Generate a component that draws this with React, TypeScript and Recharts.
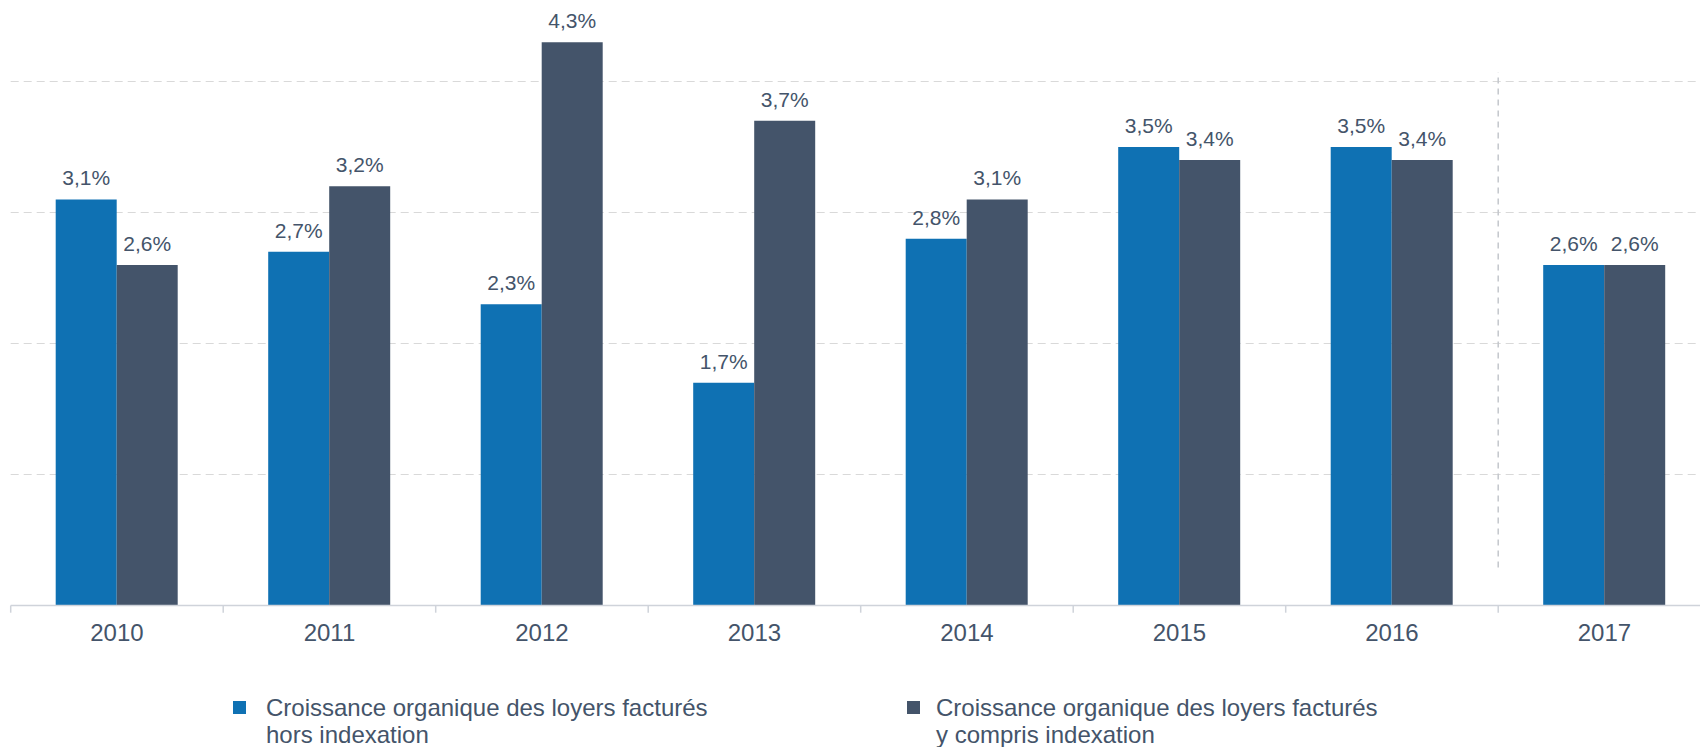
import { Bar, BarChart, CartesianGrid, LabelList, ReferenceLine, XAxis, YAxis } from "recharts";

const years = ["2010", "2011", "2012", "2013", "2014", "2015", "2016", "2017"];
const horsIndexation = [3.1, 2.7, 2.3, 1.7, 2.8, 3.5, 3.5, 2.6];
const yComprisIndexation = [2.6, 3.2, 4.3, 3.7, 3.1, 3.4, 3.4, 2.6];
const gridTicks = [1, 2, 3, 4];

const seriesNames = [
  ["Croissance organique des loyers facturés", "hors indexation"],
  ["Croissance organique des loyers facturés", "y compris indexation"],
];

// the dashed separator before the 2017 column, in % units
const SEP_FROM = 0.29;
const SEP_TO = 4.07;
const TICK_DEPTH = -0.055;

const BLUE = "#0F71B3";
const SLATE = "#44546A";
const TEXT = "#44546A";
const FONT = "'Liberation Sans', Arial, sans-serif";

const data = years.map((year, i) => ({
  year,
  hors: horsIndexation[i],
  ycompris: yComprisIndexation[i],
}));

const fmt = (v: any) => `${Number(v).toFixed(1).replace(".", ",")}%`;

const legendPos = [
  { square: 233, text: 266, color: BLUE },
  { square: 907, text: 936, color: SLATE },
];

export default function App() {
  return (
    <div
      style={{
        position: "absolute",
        left: 0,
        top: 0,
        width: 1700,
        height: 747,
        overflow: "hidden",
        background: "#fff",
        fontFamily: FONT,
      }}
    >
      <BarChart
        width={1721}
        height={747}
        data={data}
        margin={{ top: 16, right: 10.3, bottom: 96.5, left: 10.7 }}
        barGap={0}
        barSize={61}
      >
        <CartesianGrid
          vertical={false}
          horizontalValues={gridTicks}
          stroke="#D9D9D9"
          strokeDasharray="8 5"
        />
        <YAxis hide domain={[0, 4.5]} ticks={gridTicks} />
        <XAxis
          dataKey="year"
          height={45}
          tickSize={0}
          tickMargin={18}
          tickLine={false}
          axisLine={{ stroke: "#CFD3DA", strokeWidth: 1.5 }}
          tick={{ fill: TEXT, fontSize: 24, fontFamily: FONT }}
          interval={0}
        />
        {years.map((y) => (
          <ReferenceLine
            key={`t-${y}`}
            segment={[
              { x: y, y: 0 },
              { x: y, y: TICK_DEPTH },
            ]}
            position="start"
            ifOverflow="visible"
            stroke="#CFD3DA"
            strokeWidth={1.5}
          />
        ))}
        <ReferenceLine
          segment={[
            { x: years[years.length - 1], y: 0 },
            { x: years[years.length - 1], y: TICK_DEPTH },
          ]}
          position="end"
          ifOverflow="visible"
          stroke="#CFD3DA"
          strokeWidth={1.5}
        />
        <ReferenceLine
          segment={[
            { x: "2017", y: SEP_FROM },
            { x: "2017", y: SEP_TO },
          ]}
          position="start"
          ifOverflow="visible"
          stroke="#C4C7CC"
          strokeWidth={1.5}
          strokeDasharray="6 5"
        />
        <Bar dataKey="hors" fill={BLUE} isAnimationActive={false}>
          <LabelList
            dataKey="hors"
            position="top"
            offset={14}
            formatter={fmt}
            style={{ fill: TEXT, fontSize: 21, fontFamily: FONT }}
          />
        </Bar>
        <Bar dataKey="ycompris" fill={SLATE} isAnimationActive={false}>
          <LabelList
            dataKey="ycompris"
            position="top"
            offset={14}
            formatter={fmt}
            style={{ fill: TEXT, fontSize: 21, fontFamily: FONT }}
          />
        </Bar>
      </BarChart>

      {seriesNames.map((lines, i) => (
        <div key={i}>
          <div
            style={{
              position: "absolute",
              left: legendPos[i].square,
              top: 701,
              width: 13,
              height: 13,
              background: legendPos[i].color,
            }}
          />
          <div
            style={{
              position: "absolute",
              left: legendPos[i].text,
              top: 694,
              fontSize: 24,
              lineHeight: "27px",
              color: TEXT,
              whiteSpace: "nowrap",
            }}
          >
            {lines[0]}
            <br />
            {lines[1]}
          </div>
        </div>
      ))}
    </div>
  );
}
